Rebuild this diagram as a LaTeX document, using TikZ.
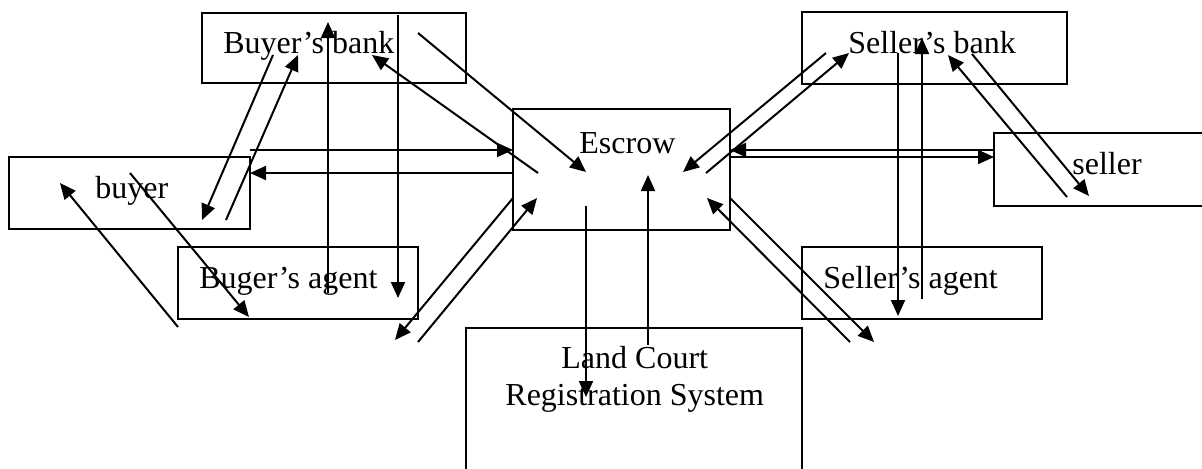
\documentclass[tikz,border=0pt]{standalone}
\usepackage{fontspec}
\setmainfont{Liberation Serif}
\usetikzlibrary{fit,arrows.meta}
\begin{document}
\begin{tikzpicture}[x=0.5pt,y=-0.5pt,
  box/.style={draw, line width=1pt, inner sep=0pt, outer sep=0pt},
  txt/.style={anchor=base west, inner sep=0pt, font=\fontsize{16}{18.5}\selectfont},
  arr/.style={line width=1pt, -{Triangle[length=8pt,width=7pt]}}]
\path[use as bounding box] (0,0) rectangle (1202,468);
\clip (0,0) rectangle (1202,468);
% boxes
\node[box, fit={(202,13) (466,83)}] (bbank) {};
\node[box, fit={(9,157) (250,229)}] (buyer) {};
\node[box, fit={(178,247) (418,319)}] (bagent) {};
\node[box, fit={(513,109) (730,230)}] (escrow) {};
\node[box, fit={(466,328) (802,500)}] (land) {};
\node[box, fit={(802,12) (1067,84)}] (sbank) {};
\node[box, fit={(994,133) (1230,206)}] (seller) {};
\node[box, fit={(802,247) (1042,319)}] (sagent) {};
% texts
\node[txt] (bbankT) at (223,53) {Buyer’s bank};
\node[txt] (buyerT) at (95,198) {buyer};
\node[txt] (bagentT) at (199,288) {Buger’s agent};
\node[txt] (escrowT) at (579,153) {Escrow};
\node[txt] (landT1) at (561,368) {Land Court};
\node[txt] (landT2) at (505,405) {Registration System};
\node[txt] (sbankT) at (848,53) {Seller’s bank};
\node[txt] (sellerT) at (1072,174) {seller};
\node[txt] (sagentT) at (823,288) {Seller’s agent};
% connectors
\foreach \n/\sx/\sy/\ex/\ey in {
  1/273/55/202/220, 2/226/220/298/55, 3/328/293/328/22, 4/398/15/398/298,
  5/418/33/586/172, 6/538/173/372/55, 7/250/150/513/150, 8/513/173/250/173,
  9/178/327/60/183, 10/130/173/249/317, 11/513/198/395/340, 12/418/342/537/198,
  13/586/206/586/397, 14/648/345/648/175, 15/826/53/683/172, 16/706/173/849/53,
  17/994/150/730/150, 18/730/157/994/157, 19/898/53/898/316, 20/922/299/922/38,
  21/1067/197/948/55, 22/972/54/1089/196, 23/850/342/707/198, 24/730/198/874/342}{
  \coordinate (s\n) at (\sx,\sy);
  \coordinate (e\n) at (\ex,\ey);
  \draw[arr] (s\n) -- (e\n);
}
\end{tikzpicture}
\end{document}
